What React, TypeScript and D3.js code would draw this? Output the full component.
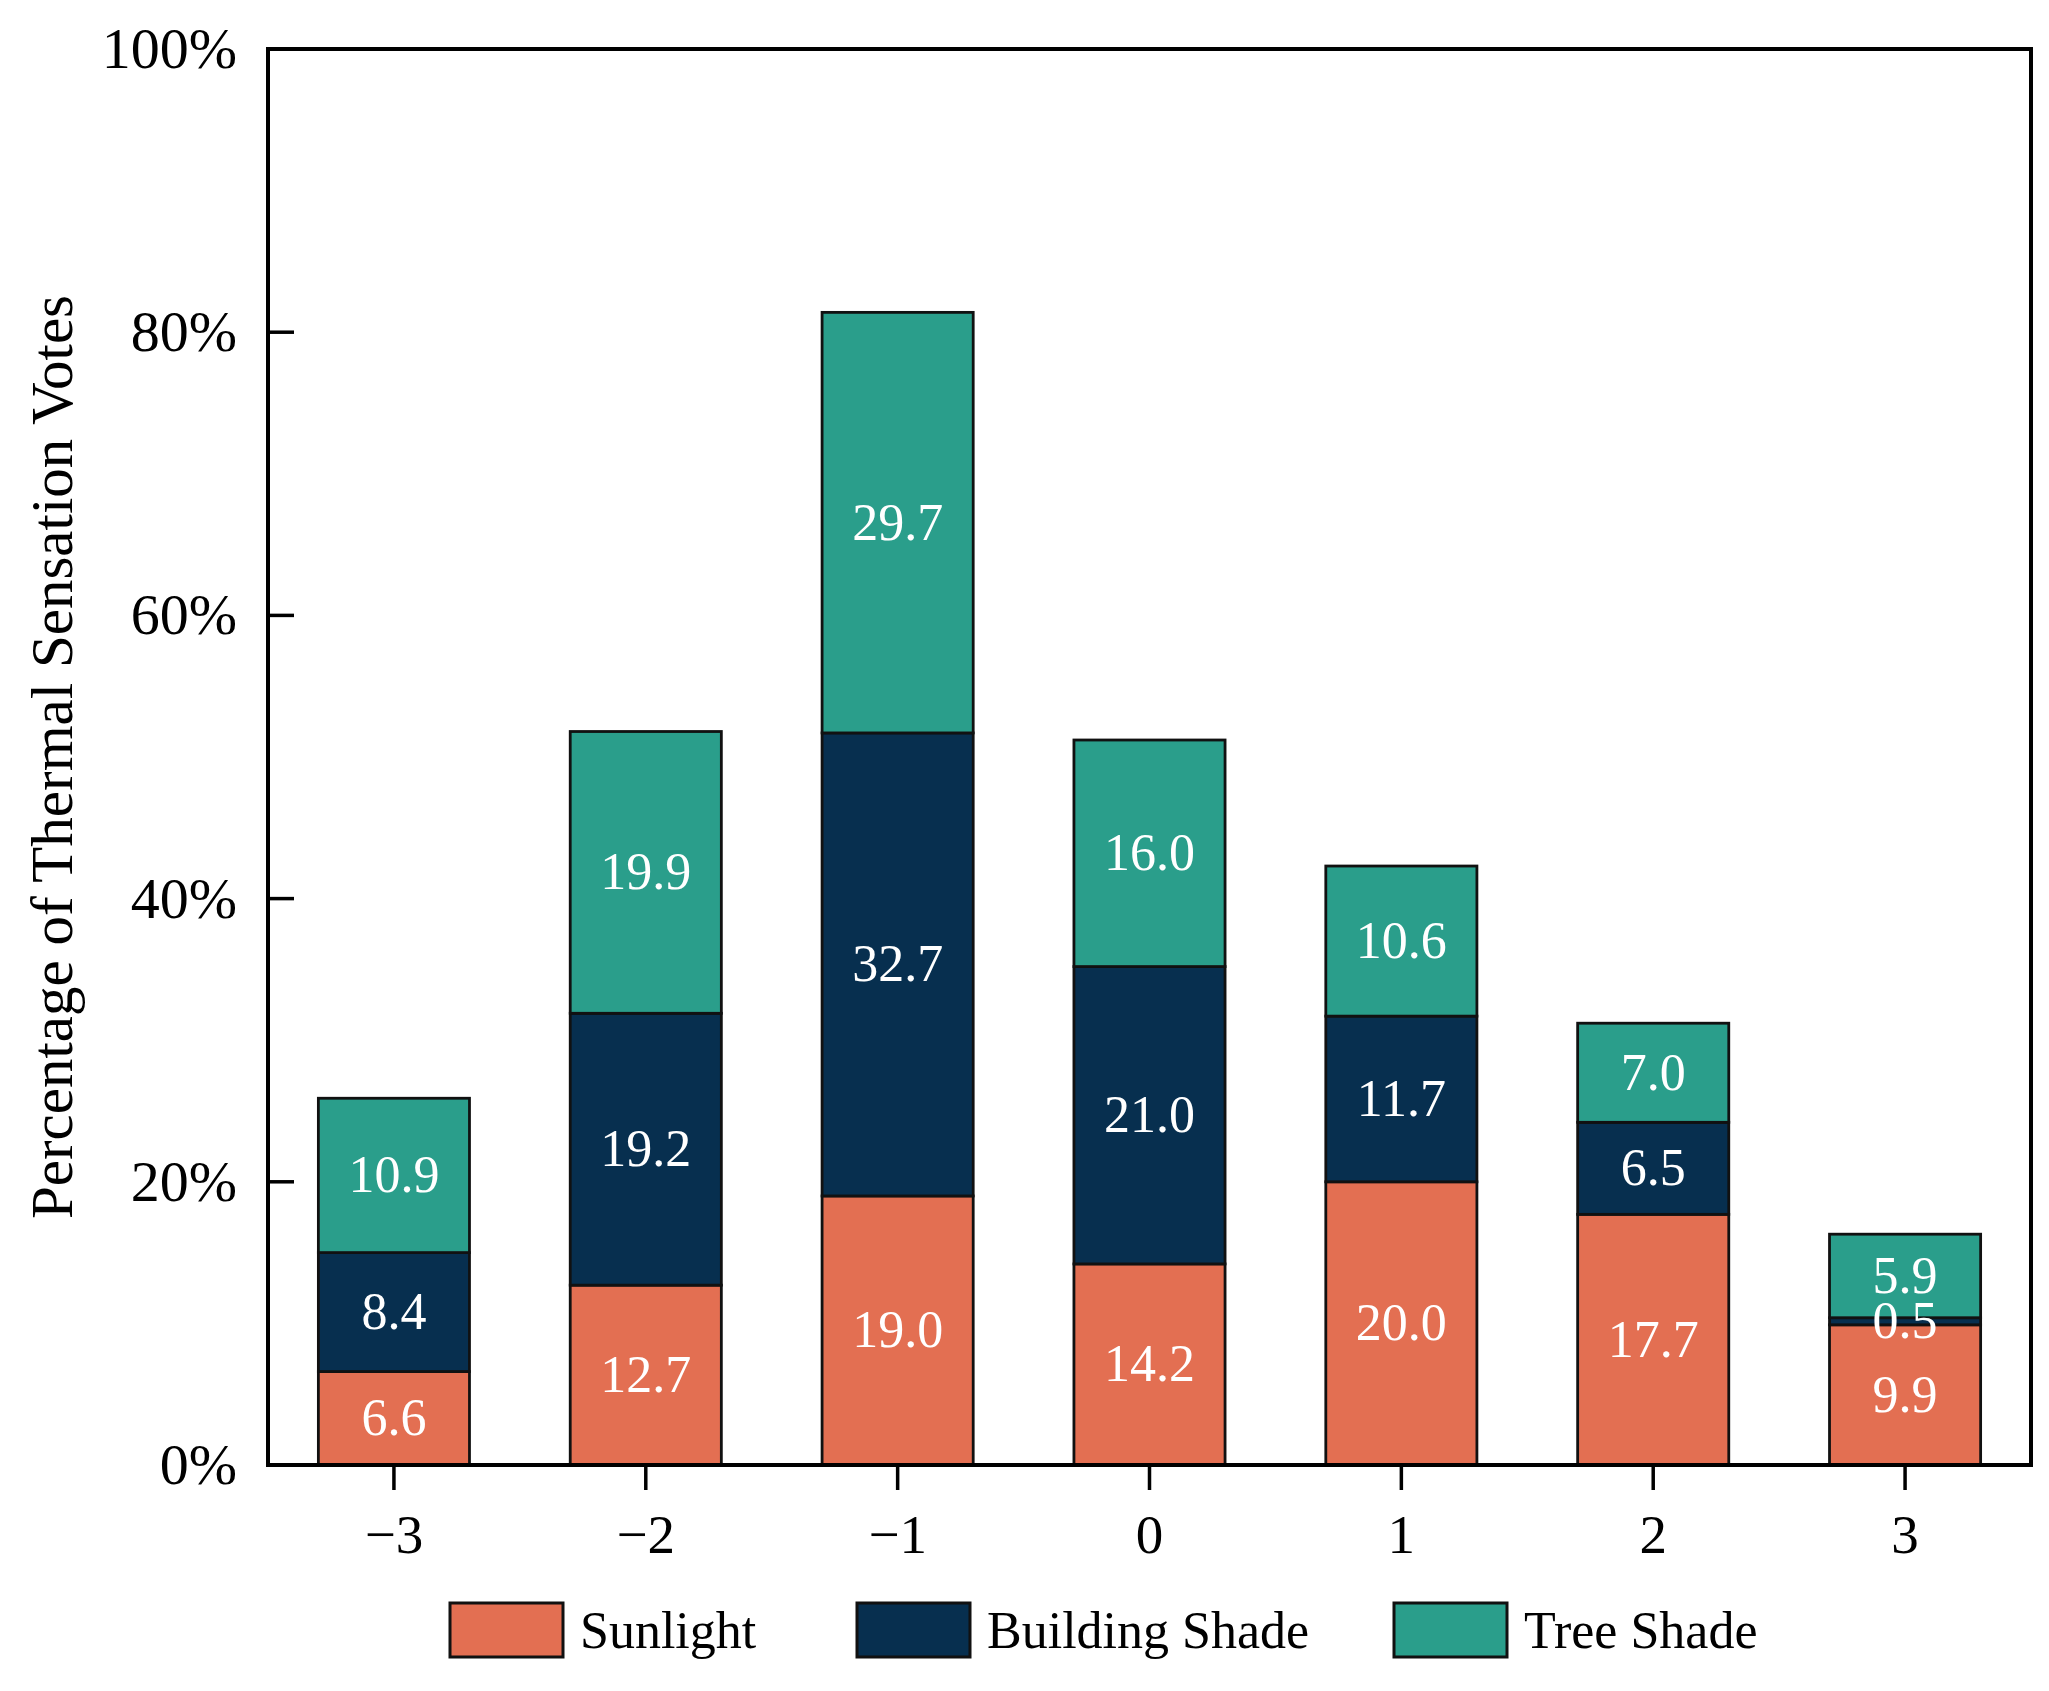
import React from 'react'
import * as d3 from 'd3'

const categories = [-3, -2, -1, 0, 1, 2, 3]
const sunlight = [6.6, 12.7, 19.0, 14.2, 20.0, 17.7, 9.9]
const buildingShade = [8.4, 19.2, 32.7, 21.0, 11.7, 6.5, 0.5]
const treeShade = [10.9, 19.9, 29.7, 16.0, 10.6, 7.0, 5.9]
const seriesNames = ['Sunlight', 'Building Shade', 'Tree Shade']
const yTicks = [0, 20, 40, 60, 80, 100]

const COLORS = ['#E36F52', '#072F4F', '#2A9E8B']
const FONT = '"Liberation Serif", "Times New Roman", serif'

const WIDTH = 2049
const HEIGHT = 1691
const margin = { left: 268, right: 2031, top: 49, bottom: 1465 }

export default function App() {
  const x = d3.scaleLinear().domain([-3.5, 3.5]).range([margin.left, margin.right])
  const y = d3.scaleLinear().domain([0, 100]).range([margin.bottom, margin.top])
  const barW = x(0.3) - x(-0.3)

  const table = categories.map((c, i) => ({
    cat: c,
    Sunlight: sunlight[i],
    'Building Shade': buildingShade[i],
    'Tree Shade': treeShade[i],
  }))
  const stacked = d3.stack<any>().keys(seriesNames)(table)

  const fmtTick = (c: number) => (c < 0 ? `\u2212${Math.abs(c)}` : `${c}`)

  const legendItems = [
    { name: 'Sunlight', x: 450 },
    { name: 'Building Shade', x: 857 },
    { name: 'Tree Shade', x: 1394 },
  ]

  return (
    <svg
      width={WIDTH}
      height={HEIGHT}
      style={{ position: 'absolute', left: 0, top: 0, background: '#fff', fontFamily: FONT }}
    >
      {/* bars */}
      {stacked.map((layer, si) => (
        <g key={seriesNames[si]}>
          {layer.map((d, i) => (
            <rect
              key={i}
              x={x(categories[i]) - barW / 2}
              y={y(d[1])}
              width={barW}
              height={y(d[0]) - y(d[1])}
              fill={COLORS[si]}
              stroke="#111"
              strokeWidth={2.8}
            />
          ))}
        </g>
      ))}

      {/* value labels */}
      {stacked.map((layer, si) => (
        <g key={'lbl' + si}>
          {layer.map((d, i) => (
            <text
              key={i}
              x={x(categories[i])}
              y={y((d[0] + d[1]) / 2) + 17}
              textAnchor="middle"
              fill="#fff"
              fontSize={52}
            >
              {(d[1] - d[0]).toFixed(1)}
            </text>
          ))}
        </g>
      ))}

      {/* frame */}
      <rect
        x={margin.left}
        y={margin.top}
        width={margin.right - margin.left}
        height={margin.bottom - margin.top}
        fill="none"
        stroke="#000"
        strokeWidth={4}
      />

      {/* y ticks */}
      {yTicks.map(t => (
        <g key={t}>
          {t > 0 && t < 100 && (
            <line x1={margin.left} x2={margin.left + 26} y1={y(t)} y2={y(t)} stroke="#000" strokeWidth={3.5} />
          )}
          <text x={237} y={y(t) + 19} textAnchor="end" fontSize={58} fill="#000">
            {t}%
          </text>
        </g>
      ))}

      {/* x ticks */}
      {categories.map(c => (
        <g key={c}>
          <line x1={x(c)} x2={x(c)} y1={margin.bottom} y2={margin.bottom + 25} stroke="#000" strokeWidth={3.5} />
          <text x={x(c)} y={1553} textAnchor="middle" fontSize={55} fill="#000">
            {fmtTick(c)}
          </text>
        </g>
      ))}

      {/* y label */}
      <text
        transform={`translate(72, ${(margin.top + margin.bottom) / 2}) rotate(-90)`}
        textAnchor="middle"
        fontSize={59}
        fill="#000"
      >
        Percentage of Thermal Sensation Votes
      </text>

      {/* legend */}
      {legendItems.map((l, i) => (
        <g key={l.name}>
          <rect x={l.x} y={1603} width={113} height={54} fill={COLORS[i]} stroke="#111" strokeWidth={3} />
          <text x={l.x + 130} y={1648} fontSize={52} fill="#000">
            {l.name}
          </text>
        </g>
      ))}
    </svg>
  )
}
